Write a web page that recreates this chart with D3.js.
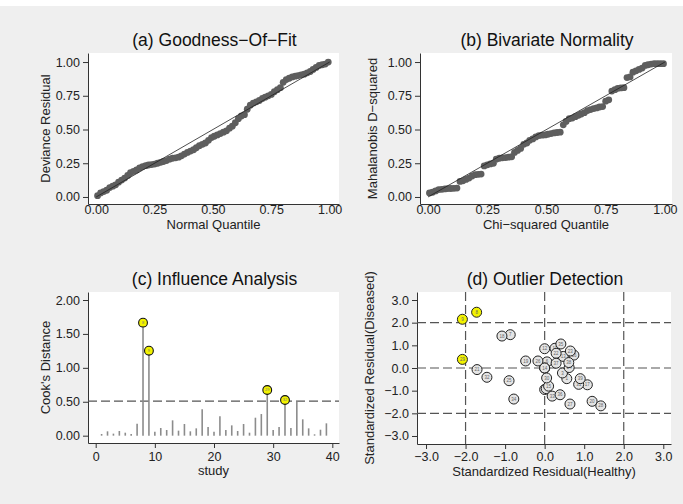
<!DOCTYPE html>
<html>
<head>
<meta charset="utf-8">
<script src="https://cdn.jsdelivr.net/npm/d3@7"></script>
<style>
	body { margin: 0; background: #efefef; }
	svg { display: block; font-family: "Liberation Sans", Arial, sans-serif; }
	.axis path, .axis line { stroke: #333; }
	.axis text { font-size: 12.5px; fill: #222; font-family: "Liberation Sans", Arial, sans-serif; }
	.panel-title { font-size: 17.5px; fill: #111; text-anchor: middle; }
	.axis-title { font-size: 13px; fill: #222; text-anchor: middle; }
</style>
</head>
<body>
<svg id="chart" width="683" height="504"></svg>
<script>
// Quantile positions shared by panels (a) and (b)
let quantiles = [
	0.006, 0.019, 0.032, 0.045, 0.058, 0.071, 0.083, 0.096, 0.109, 0.122,
	0.135, 0.147, 0.160, 0.173, 0.186, 0.199, 0.212, 0.224, 0.237, 0.250,
	0.263, 0.276, 0.288, 0.301, 0.314, 0.327, 0.340, 0.353, 0.365, 0.378,
	0.391, 0.404, 0.417, 0.429, 0.442, 0.455, 0.468, 0.481, 0.494, 0.506,
	0.519, 0.532, 0.545, 0.558, 0.571, 0.583, 0.596, 0.609, 0.622, 0.635,
	0.647, 0.660, 0.673, 0.686, 0.699, 0.712, 0.724, 0.737, 0.750, 0.763,
	0.776, 0.789, 0.801, 0.814, 0.827, 0.840, 0.853, 0.865, 0.878, 0.891,
	0.904, 0.917, 0.929, 0.942, 0.955, 0.968, 0.981, 0.994
];

// (a) deviance residuals
let devianceResidual = [
	0.01, 0.03, 0.04, 0.05, 0.07, 0.08, 0.09, 0.11, 0.125, 0.14,
	0.16, 0.18, 0.19, 0.20, 0.215, 0.225, 0.232, 0.237, 0.24, 0.244,
	0.25, 0.257, 0.263, 0.27, 0.28, 0.287, 0.29, 0.295, 0.305, 0.318,
	0.33, 0.34, 0.35, 0.365, 0.38, 0.39, 0.40, 0.42, 0.44, 0.45,
	0.46, 0.47, 0.48, 0.49, 0.51, 0.525, 0.55, 0.58, 0.60, 0.61,
	0.65, 0.68, 0.695, 0.705, 0.715, 0.73, 0.74, 0.75, 0.76, 0.78,
	0.795, 0.81, 0.85, 0.87, 0.88, 0.89, 0.895, 0.90, 0.905, 0.91,
	0.92, 0.93, 0.945, 0.96, 0.975, 0.98, 0.985, 1.0
];

// (b) Mahalanobis D-squared
let mahalanobis = [
	0.03, 0.035, 0.045, 0.055, 0.057, 0.06, 0.062, 0.063, 0.064, 0.066,
	0.115, 0.12, 0.13, 0.14, 0.155, 0.165, 0.168, 0.17, 0.23, 0.238,
	0.245, 0.25, 0.28, 0.287, 0.29, 0.292, 0.295, 0.298, 0.33, 0.345,
	0.36, 0.39, 0.40, 0.42, 0.43, 0.445, 0.455, 0.458, 0.46, 0.465,
	0.47, 0.475, 0.478, 0.48, 0.535, 0.56, 0.58, 0.585, 0.595, 0.605,
	0.615, 0.625, 0.64, 0.648, 0.655, 0.66, 0.667, 0.67, 0.71, 0.72,
	0.785, 0.795, 0.805, 0.808, 0.81, 0.885, 0.89, 0.925, 0.935, 0.945,
	0.955, 0.975, 0.98, 0.985, 0.988, 0.988, 0.988, 0.988
];

// (c) Cook's distance per study
let studies = [1, 2, 3, 4, 5, 6, 7, 8, 9, 10, 11, 12, 13, 14, 15, 16, 17, 18, 19, 20,
	21, 22, 23, 24, 25, 26, 27, 28, 29, 30, 31, 32, 33, 34, 35, 36, 37, 38, 39];
let cooksDistance = [
	0.025, 0.064, 0.03, 0.069, 0.044, 0.025, 0.177, 1.666, 1.253, 0.059,
	0.113, 0.084, 0.226, 0.074, 0.172, 0.064, 0.108, 0.388, 0.128, 0.059,
	0.285, 0.084, 0.152, 0.069, 0.172, 0.044, 0.265, 0.319, 0.673, 0.084,
	0.128, 0.526, 0.113, 0.505, 0.241, 0.108, 0.02, 0.088, 0.182
];
let cooksCutoff = 0.51;

// (d) standardized residuals per study
let residHealthy = [
	0.56, 0.00, 0.45, 0.00, 0.04, 0.06, -0.87, -1.72, -2.08, 0.00,
	0.26, 0.00, 0.47, 0.00, 0.10, 0.74, 1.08, -1.08, -0.48, 1.20,
	-1.71, 0.29, 0.65, 0.62, -0.90, -0.17, 0.64, 1.42, -2.08, 0.05,
	0.86, -1.46, 0.19, -0.78, 0.41, 0.39, 0.29, 0.61, 0.90
];
let residDiseased = [
	-0.47, 0.00, -0.22, -0.95, -0.91, 0.27, 1.47, 2.46, 2.15, 0.00,
	0.87, 0.85, 0.51, 0.00, -0.80, 0.57, -0.74, 1.41, 0.31, -1.47,
	-0.07, 0.65, 0.75, 0.02, -0.56, 0.31, -1.59, -1.67, 0.38, -0.44,
	-0.72, -0.41, -1.24, -1.37, 1.06, -1.18, 0.21, 0.24, -0.47
];
let residCutoff = 2;

// Tick labels
let unitTicks = [0, 0.25, 0.5, 0.75, 1];
let cookYTicks = [0, 0.5, 1, 1.5, 2];
let studyTicks = [0, 10, 20, 30, 40];
let residTicks = [-3, -2, -1, 0, 1, 2, 3];

let svg = d3.select("#chart");

// White strip at the very top of the picture
svg.append("rect").attr("x", 0).attr("y", 0).attr("width", 683).attr("height", 6).attr("fill", "#fff");

// Builds one panel: plot area, axes and titles; returns scales and group
function makePanel(cfg) {
	let x = d3.scaleLinear().domain(cfg.xDomain).range([cfg.left, cfg.right]);
	let y = d3.scaleLinear().domain(cfg.yDomain).range([cfg.bottom, cfg.top]);
	let g = svg.append("g");

	g.append("rect")
		.attr("x", cfg.left).attr("y", cfg.top)
		.attr("width", cfg.right - cfg.left).attr("height", cfg.bottom - cfg.top)
		.attr("fill", "#fff");

	g.append("g")
		.attr("class", "axis")
		.attr("transform", "translate(0," + cfg.bottom + ")")
		.call(d3.axisBottom(x).tickValues(cfg.xTicks).tickFormat(cfg.xFormat)
			.tickSizeInner(cfg.xTickLen).tickSizeOuter(0).tickPadding(cfg.xTickPad));

	g.append("g")
		.attr("class", "axis")
		.attr("transform", "translate(" + cfg.left + ",0)")
		.call(d3.axisLeft(y).tickValues(cfg.yTicks).tickFormat(cfg.yFormat)
			.tickSizeInner(5).tickSizeOuter(0).tickPadding(3));

	let cx = (cfg.left + cfg.right) / 2;
	g.append("text").attr("class", "panel-title").attr("x", cx + 1).attr("y", cfg.top - 7).text(cfg.title);
	g.append("text").attr("class", "axis-title").attr("x", cx).attr("y", cfg.xTitleY).text(cfg.xTitle);
	g.append("text").attr("class", "axis-title")
		.attr("transform", "translate(" + (cfg.left - cfg.yTitleGap) + "," + ((cfg.top + cfg.bottom) / 2) + ") rotate(-90)")
		.text(cfg.yTitle);

	return { g: g, x: x, y: y };
}

// Draws a normal-probability style panel with y = x reference line
function drawQQ(panel, xs, ys) {
	panel.g.selectAll(".qq")
		.data(xs.map((d, i) => [d, ys[i]]))
		.enter().append("circle")
		.attr("class", "qq")
		.attr("cx", d => panel.x(d[0]))
		.attr("cy", d => panel.y(d[1]))
		.attr("r", 3.4)
		.attr("fill", "#5e5e5e");

	panel.g.append("line")
		.attr("x1", panel.x(0)).attr("y1", panel.y(0))
		.attr("x2", panel.x(1)).attr("y2", panel.y(1))
		.attr("stroke", "#222").attr("stroke-width", 0.8);
}

let f2 = d3.format(".2f");

// (a) Goodness-of-fit
let pa = makePanel({
	left: 88, right: 339, top: 53, bottom: 204,
	xDomain: [-0.035, 1.04], yDomain: [-0.052, 1.067],
	xTicks: unitTicks, yTicks: unitTicks, xFormat: f2, yFormat: f2,
	xTickLen: 1, xTickPad: 0, xTitleY: 229, yTitleGap: 38,
	title: "(a) Goodness\u2212Of\u2212Fit", xTitle: "Normal Quantile", yTitle: "Deviance Residual"
});
drawQQ(pa, quantiles, devianceResidual);

// (b) Bivariate normality
let pb = makePanel({
	left: 420, right: 672, top: 53, bottom: 204,
	xDomain: [-0.034, 1.03], yDomain: [-0.052, 1.067],
	xTicks: unitTicks, yTicks: unitTicks, xFormat: f2, yFormat: f2,
	xTickLen: 1, xTickPad: 0, xTitleY: 229, yTitleGap: 43,
	title: "(b) Bivariate Normality", xTitle: "Chi\u2212squared Quantile", yTitle: "Mahalanobis D\u2212squared"
});
drawQQ(pb, quantiles, mahalanobis);

// (c) Influence analysis
let pc = makePanel({
	left: 88, right: 339, top: 292, bottom: 443,
	xDomain: [-1.3, 41.13], yDomain: [-0.108, 2.118],
	xTicks: studyTicks, yTicks: cookYTicks, xFormat: d3.format("d"), yFormat: f2,
	xTickLen: 5, xTickPad: 4, xTitleY: 475, yTitleGap: 38,
	title: "(c) Influence Analysis", xTitle: "study", yTitle: "Cook's Distance"
});

let cookData = studies.map((s, i) => ({ study: s, value: cooksDistance[i] }));

pc.g.append("line")
	.attr("x1", pc.x.range()[0]).attr("x2", pc.x.range()[1])
	.attr("y1", pc.y(cooksCutoff)).attr("y2", pc.y(cooksCutoff))
	.attr("stroke", "#555").attr("stroke-width", 1.2).attr("stroke-dasharray", "9,4");

pc.g.selectAll(".spike")
	.data(cookData)
	.enter().append("line")
	.attr("class", "spike")
	.attr("x1", d => pc.x(d.study)).attr("x2", d => pc.x(d.study))
	.attr("y1", pc.y(0)).attr("y2", d => pc.y(d.value))
	.attr("stroke", "#8c8c8c").attr("stroke-width", 1.6);

let influential = cookData.filter(d => d.value > cooksCutoff);
pc.g.selectAll(".flag")
	.data(influential)
	.enter().append("circle")
	.attr("class", "flag")
	.attr("cx", d => pc.x(d.study)).attr("cy", d => pc.y(d.value))
	.attr("r", 4.4)
	.attr("fill", "#f2f200").attr("stroke", "#111").attr("stroke-width", 1.1);
pc.g.selectAll(".flag-label")
	.data(influential)
	.enter().append("text")
	.attr("x", d => pc.x(d.study)).attr("y", d => pc.y(d.value))
	.attr("dy", "0.35em").attr("text-anchor", "middle")
	.style("font-size", "4px").style("fill", "#777")
	.text(d => d.study);

// (d) Outlier detection
let pd = makePanel({
	left: 417, right: 671, top: 292, bottom: 444,
	xDomain: [-3.228, 3.195], yDomain: [-3.353, 3.353],
	xTicks: residTicks, yTicks: residTicks, xFormat: d3.format(".1f"), yFormat: d3.format(".1f"),
	xTickLen: 5, xTickPad: 3, xTitleY: 476, yTitleGap: 43,
	title: "(d) Outlier Detection", xTitle: "Standardized Residual(Healthy)", yTitle: "Standardized Residual(Diseased)"
});

let refLines = [-residCutoff, 0, residCutoff];
pd.g.selectAll(".vref")
	.data(refLines)
	.enter().append("line")
	.attr("x1", d => pd.x(d)).attr("x2", d => pd.x(d))
	.attr("y1", pd.y.range()[0]).attr("y2", pd.y.range()[1])
	.attr("stroke", "#555").attr("stroke-width", 1.2).attr("stroke-dasharray", "9,4");
pd.g.selectAll(".href")
	.data(refLines)
	.enter().append("line")
	.attr("x1", pd.x.range()[0]).attr("x2", pd.x.range()[1])
	.attr("y1", d => pd.y(d)).attr("y2", d => pd.y(d))
	.attr("stroke", "#555").attr("stroke-width", 1.2).attr("stroke-dasharray", "9,4");

let residData = studies.map((s, i) => ({
	study: s, h: residHealthy[i], d: residDiseased[i],
	outlier: Math.abs(residHealthy[i]) > residCutoff || Math.abs(residDiseased[i]) > residCutoff
}));

let pts = pd.g.selectAll(".pt")
	.data(residData)
	.enter().append("g")
	.attr("transform", d => "translate(" + pd.x(d.h) + "," + pd.y(d.d) + ")");
pts.append("circle")
	.attr("r", 5)
	.attr("fill", d => d.outlier ? "#f2f200" : "#e4e4e4")
	.attr("stroke", "#222").attr("stroke-width", 1);
pts.append("text")
	.attr("dy", "0.35em").attr("text-anchor", "middle")
	.style("font-size", "4.5px").style("fill", "#666")
	.text(d => d.study);
</script>
</body>
</html>
